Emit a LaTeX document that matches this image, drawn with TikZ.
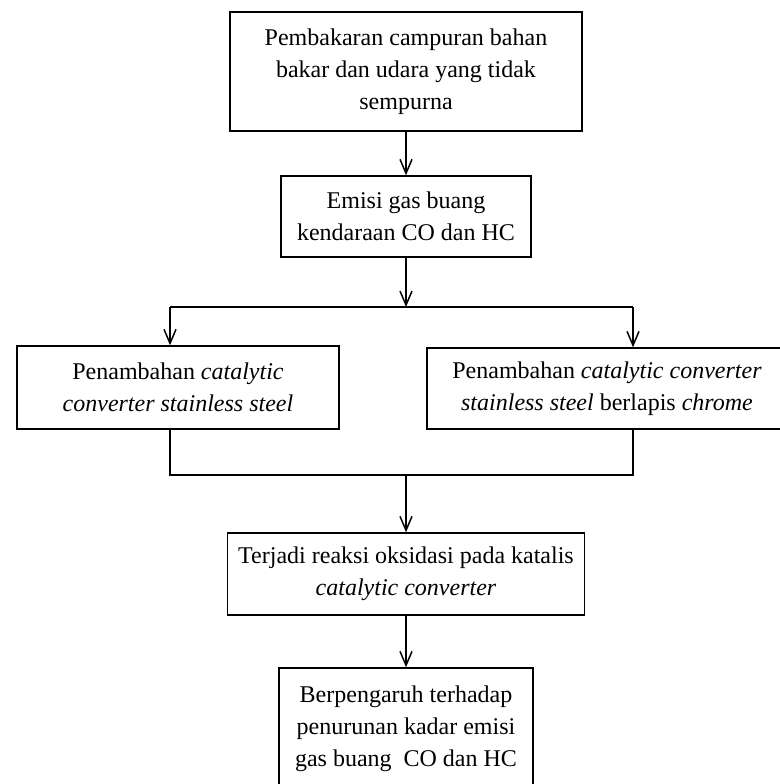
\documentclass[tikz,border=0pt]{standalone}
\usepackage{fontspec}
\setmainfont{Liberation Serif}
\usetikzlibrary{arrows.meta}
\tikzstyle{box} = [rectangle, draw, line width=1.5pt, text centered, align=center, inner sep=0pt, font=\fontsize{24}{32}\selectfont]
\tikzstyle{arrow} = [line width=1.5pt, -{Straight Barb[length=14pt,width=12pt]}]
\tikzstyle{line} = [line width=1.5pt]

\begin{document}
\begin{tikzpicture}[x=1pt,y=-1pt]
\useasboundingbox (0,0) rectangle (779,784);

\node (b1) [box, minimum width=352pt, minimum height=119pt] at (406,71.5) {Pembakaran campuran bahan\\bakar dan udara yang tidak\\sempurna};
\node (b2) [box, minimum width=250pt, minimum height=81pt] at (406,216.5) {Emisi gas buang\\kendaraan CO dan HC};
\node (b3) [box, minimum width=322pt, minimum height=83pt] at (178,387.5) {Penambahan \textit{catalytic}\\\textit{converter stainless steel}};
\node (b4) [box, minimum width=360pt, minimum height=81pt] at (607,388.5) {Penambahan \textit{catalytic converter}\\\textit{stainless steel} berlapis \textit{chrome}};
\node (b5) [box, minimum width=357pt, minimum height=82pt] at (406,574) {Terjadi reaksi oksidasi pada katalis\\\textit{catalytic converter}};
\node (b6) [box, minimum width=254pt, minimum height=122pt] at (406,729) {Berpengaruh terhadap\\penurunan kadar emisi\\gas buang\ \ CO dan HC};

% cabang ke dua perlakuan
\coordinate (split) at (406,307);
\coordinate (sl) at (170,307);
\coordinate (sr) at (633,307);
% gabungan ke reaksi
\coordinate (join) at (406,475);
\coordinate (jl) at (170,475);
\coordinate (jr) at (633,475);

\draw [arrow] (b1) -- (b2);
\draw [arrow] (b2) -- (split);
\draw [line] (sl) -- (sr);
\draw [arrow] (sl) -- (sl |- b3.north);
\draw [arrow] (sr) -- (sr |- b4.north);

\draw [line] (sl |- b3.south) -- (jl) -- (jr) -- (sr |- b4.south);
\draw [arrow] (join) -- (b5);
\draw [arrow] (b5) -- (b6);

\end{tikzpicture}
\end{document}
